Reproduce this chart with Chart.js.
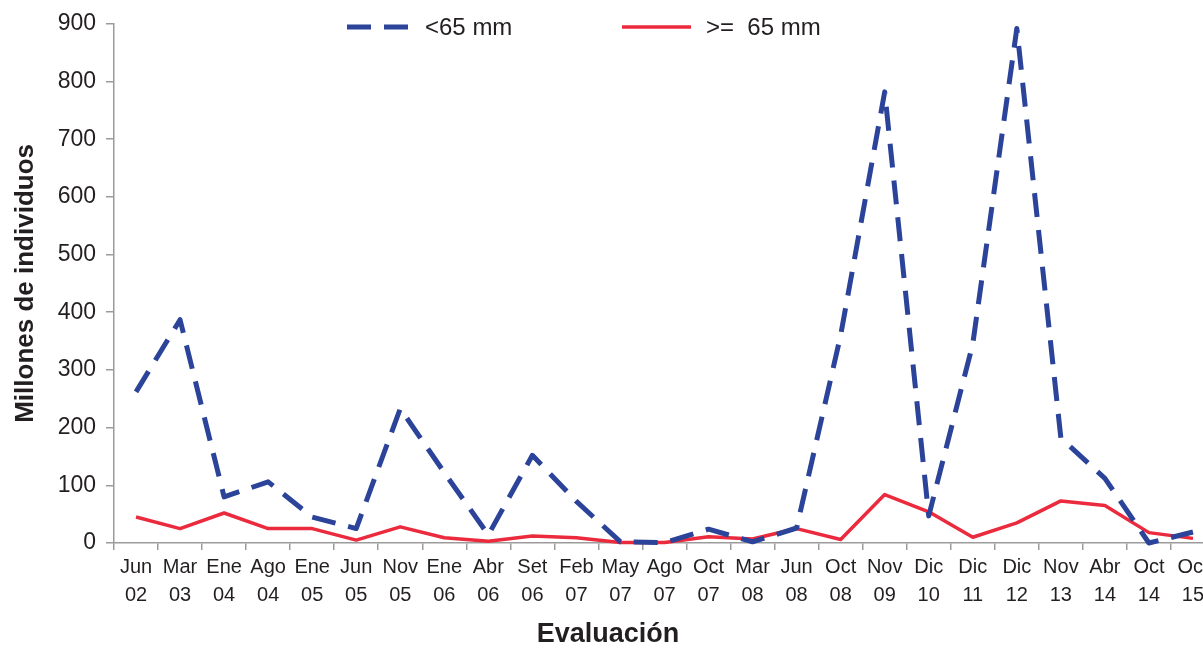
<!DOCTYPE html>
<html>
<head>
<meta charset="utf-8">
<script src="https://cdn.jsdelivr.net/npm/chart.js@4"></script>
<style>
  html, body { margin: 0; padding: 0; background: #fff; overflow: hidden; }
  #wrap { width: 1203px; height: 648px; overflow: hidden; }
</style>
</head>
<body>
<div id="wrap"><canvas id="grafico" width="1215" height="648"></canvas></div>
<script>
const meses = ['Jun', 'Mar', 'Ene', 'Ago', 'Ene', 'Jun', 'Nov', 'Ene', 'Abr', 'Set', 'Feb', 'May', 'Ago',
  'Oct', 'Mar', 'Jun', 'Oct', 'Nov', 'Dic', 'Dic', 'Dic', 'Nov', 'Abr', 'Oct', 'Oct'];
const anios = ['02', '03', '04', '04', '05', '05', '05', '06', '06', '06', '07', '07', '07',
  '07', '08', '08', '08', '09', '10', '11', '12', '13', '14', '14', '15'];

const menor65 = [262, 387, 80, 106, 45, 25, 233, 122, 14, 152, 72, 2, 0.5, 24, 2, 26, 360, 782, 47, 345, 892, 182, 112, 0, 19];
const mayor65 = [45, 25, 52, 25, 25, 5, 28, 9, 3, 12, 9, 1, 1, 11, 7, 25, 6, 84, 54, 10, 35, 73, 65, 18, 8];

const yTicks = [0, 100, 200, 300, 400, 500, 600, 700, 800, 900];

const FONT = '"Liberation Sans", Arial, sans-serif';
const GRIS = '#9b9b9b';
const TEXTO = '#231f20';

// leyenda dentro del area del grafico y titulo del eje x, como en el original
const leyendaPlugin = {
  id: 'leyenda',
  afterDraw(chart, args, opts) {
    const ctx = chart.ctx;
    ctx.save();
    chart.data.datasets.forEach((ds, i) => {
      const x = opts.posiciones[i];
      const largo = opts.largos[i];
      const y = opts.y;
      ctx.strokeStyle = ds.borderColor;
      ctx.lineWidth = ds.borderWidth;
      ctx.lineCap = 'butt';
      ctx.setLineDash(ds.borderDash || []);
      ctx.beginPath();
      ctx.moveTo(x, y);
      ctx.lineTo(x + largo, y);
      ctx.stroke();
      ctx.setLineDash([]);
      ctx.fillStyle = TEXTO;
      ctx.font = `24px ${FONT}`;
      ctx.textBaseline = 'middle';
      ctx.fillText(ds.label, x + largo + opts.sep, y + 1);
    });
    ctx.font = `bold 27px ${FONT}`;
    ctx.textAlign = 'center';
    ctx.textBaseline = 'middle';
    ctx.fillStyle = TEXTO;
    ctx.fillText(opts.tituloX, opts.tituloXpos[0], opts.tituloXpos[1]);
    ctx.restore();
  }
};

const ctx = document.getElementById('grafico').getContext('2d');
new Chart(ctx, {
  type: 'line',
  data: {
    labels: meses.map((m, i) => [m, anios[i]]),
    datasets: [
      {
        label: '<65 mm',
        data: menor65,
        borderColor: '#2b4399',
        borderWidth: 5,
        borderDash: [24, 13],
        borderJoinStyle: 'round',
        tension: 0,
        pointRadius: 0,
        fill: false
      },
      {
        label: '>=  65 mm',
        data: mayor65,
        borderColor: '#ec2a3d',
        borderWidth: 3.5,
        borderJoinStyle: 'round',
        tension: 0,
        pointRadius: 0,
        fill: false
      }
    ]
  },
  options: {
    responsive: false,
    animation: false,
    devicePixelRatio: 1,
    clip: false,
    layout: { padding: { top: 23, left: 0, right: 0, bottom: 0 } },
    plugins: {
      legend: { display: false },
      tooltip: { enabled: false },
      leyenda: { posiciones: [347, 622], largos: [63, 69], y: 27, sep: 15, tituloX: 'Evaluación', tituloXpos: [608, 635] }
    },
    scales: {
      x: {
        offset: true,
        grid: { offset: true, drawOnChartArea: false, color: GRIS, lineWidth: 1.5, tickLength: 7 },
        border: { color: GRIS, width: 1.5 },
        ticks: { color: TEXTO, font: { family: FONT, size: 20, lineHeight: 1.4 }, padding: 3, maxRotation: 0, autoSkip: false },
        afterFit: s => { s.height = 105; }
      },
      y: {
        min: 0,
        max: 900,
        afterBuildTicks: s => { s.ticks = yTicks.map(v => ({ value: v })); },
        grid: { drawOnChartArea: false, color: GRIS, lineWidth: 1.5, tickLength: 8 },
        border: { color: GRIS, width: 1.5 },
        ticks: { color: TEXTO, font: { family: FONT, size: 23 }, padding: 10 },
        title: { display: true, text: 'Millones de individuos', color: TEXTO, font: { family: FONT, size: 26, weight: 'bold', lineHeight: 1 }, padding: { top: 13, bottom: 0 } },
        afterFit: s => { s.width = 114; }
      }
    }
  },
  plugins: [leyendaPlugin]
});
</script>
</body>
</html>
